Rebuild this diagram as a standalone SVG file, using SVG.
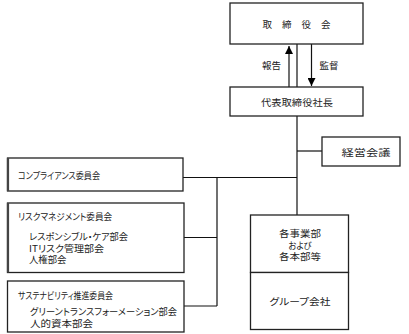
<svg xmlns="http://www.w3.org/2000/svg" width="409" height="334" viewBox="0 0 409 334">
<style>
.box{fill:#fff;stroke:#222;stroke-width:1.3}
.ln{fill:none;stroke:#111;stroke-width:1.2}
text{font-family:"Noto Sans CJK JP","Noto Sans",sans-serif;font-size:9.5px;fill:#222;font-feature-settings:"palt"}
.c{text-anchor:middle}
.thick{stroke:#444;stroke-width:2.2}
</style>
<defs>
<marker id="ah" viewBox="0 0 10 10" refX="10" refY="5" markerWidth="8" markerHeight="8" markerUnits="userSpaceOnUse" orient="auto"><path d="M0,0 L10,5 L0,10 z" fill="#000"/></marker>
</defs>
<g id="connectors">
<path class="ln" d="M297,44 V87"/>
<path class="ln" d="M289,87 V46" stroke-width="1.5" marker-end="url(#ah)"/>
<path class="ln" d="M311.5,44 V86" stroke-width="1" marker-end="url(#ah)"/>
<path class="ln" d="M297,116 V215"/>
<path class="ln" d="M297,151 H322"/>
<path class="ln" d="M183,177.5 H297"/>
<path class="ln" d="M217,177.5 V306"/>
<path class="ln" d="M184,237.5 H217"/>
<path class="ln" d="M184,306 H217"/>
</g>
<g id="board">
<rect class="box" x="230" y="3" width="133" height="41"/>
<text class="c" x="296.5" y="27.5" font-size="12.5" textLength="68">取 締 役 会</text>
</g>
<g id="label-report"><text class="c" x="271.5" y="69" font-size="11">報告</text></g>
<g id="label-audit"><text class="c" x="329" y="69" font-size="11">監督</text></g>
<g id="president">
<rect class="box" x="230" y="87" width="133" height="29"/>
<text class="c" x="297" y="105.5" font-size="10" textLength="72" lengthAdjust="spacingAndGlyphs">代表取締役社長</text>
</g>
<g id="mgmt">
<rect class="box" x="322" y="137" width="78" height="29"/>
<text class="c" x="366" y="155.5" font-size="11" textLength="49" lengthAdjust="spacingAndGlyphs">経営会議</text>
</g>
<g id="compliance">
<rect class="box" x="7.5" y="158" width="175.5" height="33"/>
<path class="thick" d="M8,158 V191"/>
<text x="18" y="179" textLength="82" lengthAdjust="spacingAndGlyphs">コンプライアンス委員会</text>
</g>
<g id="risk">
<rect class="box" x="7.5" y="203" width="176.5" height="69.5"/>
<path class="thick" d="M8,203 V272.5"/>
<text x="18" y="220" textLength="94" lengthAdjust="spacingAndGlyphs">リスクマネジメント委員会</text>
<text x="29" y="240" textLength="99" lengthAdjust="spacingAndGlyphs">レスポンシブル・ケア部会</text>
<text x="29" y="251.5" textLength="75" lengthAdjust="spacingAndGlyphs">ITリスク管理部会</text>
<text x="29" y="263" textLength="37.5" lengthAdjust="spacingAndGlyphs">人権部会</text>
</g>
<g id="sustainability">
<rect class="box" x="7.5" y="281" width="176.5" height="51"/>
<text x="18" y="299" textLength="95" lengthAdjust="spacingAndGlyphs">サステナビリティ推進委員会</text>
<text x="30" y="315" textLength="147" lengthAdjust="spacingAndGlyphs">グリーントランスフォーメーション部会</text>
<text x="30" y="326.5" textLength="63" lengthAdjust="spacingAndGlyphs">人的資本部会</text>
</g>
<g id="divisions">
<rect class="box" x="250.5" y="215" width="98" height="57.5"/>
<text class="c" x="300" y="236.5" textLength="42" lengthAdjust="spacingAndGlyphs">各事業部</text>
<text class="c" x="300" y="248.5" textLength="23" lengthAdjust="spacingAndGlyphs">および</text>
<text class="c" x="300" y="259.5" textLength="42" lengthAdjust="spacingAndGlyphs">各本部等</text>
</g>
<g id="group">
<rect class="box" x="250.5" y="272.5" width="98" height="57"/>
<text class="c" x="300" y="305" textLength="61" lengthAdjust="spacingAndGlyphs">グループ会社</text>
</g>
</svg>
